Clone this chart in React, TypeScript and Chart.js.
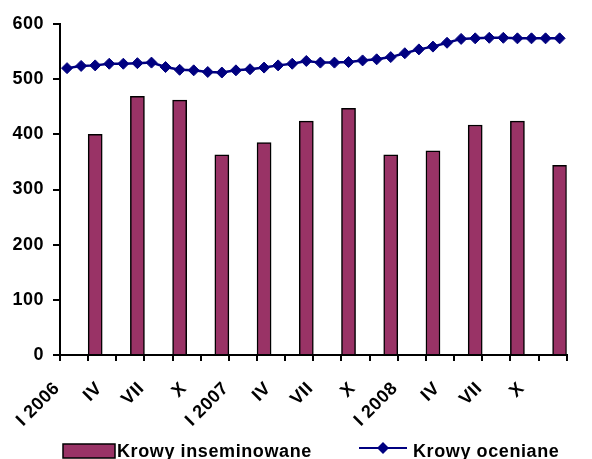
import React, { useEffect, useRef } from 'react';
import { Chart, registerables } from 'chart.js';

Chart.register(...registerables);

// Quarter labels shown on the month axis (every third month)
const quarterLabels = ['I 2006', 'IV', 'VII', 'X', 'I 2007', 'IV', 'VII', 'X', 'I 2008', 'IV', 'VII', 'X'];

// Quarterly values: Krowy inseminowane (plotted on the last month of each quarter)
const inseminated = [400, 469, 462, 363, 385, 424, 447, 363, 370, 417, 424, 344];

// Monthly values: Krowy oceniane (Jan 2006 - Dec 2008)
const assessed = [
  520, 524, 525, 528, 528, 529, 530, 522, 517, 516, 513, 512,
  516, 518, 521, 525, 528, 533, 530, 530, 531, 534, 536, 540,
  547, 554, 559, 566, 573, 574, 575, 575, 574, 574, 574, 574,
];

const seriesNames = ['Krowy inseminowane', 'Krowy oceniane'];
const yTicks = { min: 0, max: 600, step: 100 };

const BAR_COLOR = '#993366';
const LINE_COLOR = '#000080';
const FONT_FAMILY = '"Liberation Sans", Arial, sans-serif';

const months = assessed.map((_, i) => (i % 3 === 0 ? quarterLabels[i / 3] : ''));
const barData = assessed.map((_, i) => (i % 3 === 2 ? inseminated[(i - 2) / 3] : null));

const spacingPlugin = {
  id: 'letterSpacing',
  beforeDraw(chart: any) {
    (chart.ctx as any).letterSpacing = '0.5px';
  },
  afterDraw(chart: any) {
    (chart.ctx as any).letterSpacing = '0px';
  },
};

const legendPlugin = {
  id: 'customLegend',
  afterDraw(chart: any) {
    const ctx = chart.ctx as CanvasRenderingContext2D;
    const ds = chart.data.datasets;
    ctx.save();
    ctx.font = `bold 18px ${FONT_FAMILY}`;
    (ctx as any).letterSpacing = '0.6px';
    ctx.textBaseline = 'alphabetic';
    ctx.textAlign = 'left';
    // bar legend
    ctx.fillStyle = BAR_COLOR;
    ctx.fillRect(63, 444, 52, 14);
    ctx.strokeStyle = '#000';
    ctx.lineWidth = 1.5;
    ctx.strokeRect(63, 444, 52, 14);
    ctx.fillStyle = '#000';
    ctx.fillText(ds[0].label, 117, 457);
    // line legend
    ctx.strokeStyle = LINE_COLOR;
    ctx.lineWidth = 2;
    ctx.beginPath();
    ctx.moveTo(359, 448);
    ctx.lineTo(407, 448);
    ctx.stroke();
    ctx.fillStyle = LINE_COLOR;
    ctx.beginPath();
    ctx.moveTo(383 - 6, 448);
    ctx.lineTo(383, 448 - 6);
    ctx.lineTo(383 + 6, 448);
    ctx.lineTo(383, 448 + 6);
    ctx.closePath();
    ctx.fill();
    ctx.fillStyle = '#000';
    ctx.fillText(ds[1].label, 413, 457);
    ctx.restore();
  },
};

export default function App() {
  const canvasRef = useRef<HTMLCanvasElement | null>(null);

  useEffect(() => {
    if (!canvasRef.current) return;
    const tickFont = { family: FONT_FAMILY, size: 18, weight: 'bold' as const };
    const evenOnly = (c: any) =>
      c.index === undefined || c.index % 2 === 0 ? '#000' : 'rgba(0,0,0,0)';

    const chart = new Chart(canvasRef.current, {
      type: 'bar',
      data: {
        labels: months,
        datasets: [
          {
            type: 'bar',
            label: seriesNames[0],
            data: barData,
            backgroundColor: BAR_COLOR,
            borderColor: '#000',
            borderWidth: 1.5,
            barPercentage: 1,
            categoryPercentage: 1,
            order: 2,
          },
          {
            type: 'line',
            label: seriesNames[1],
            data: assessed,
            borderColor: LINE_COLOR,
            borderWidth: 2.5,
            backgroundColor: LINE_COLOR,
            pointStyle: 'rectRot',
            pointRadius: 5.5,
            pointBorderWidth: 1,
            pointBackgroundColor: LINE_COLOR,
            pointBorderColor: LINE_COLOR,
            tension: 0,
            order: 1,
          },
        ],
      },
      options: {
        responsive: false,
        animation: false,
        devicePixelRatio: 1,
        layout: { padding: { left: 0, right: 3, top: 24, bottom: 24 } },
        plugins: {
          legend: { display: false },
          tooltip: { enabled: false },
        },
        scales: {
          x: {
            type: 'category',
            offset: true,
            afterFit: (s: any) => {
              s.height = 80;
            },
            grid: {
              offset: true,
              drawOnChartArea: false,
              drawTicks: true,
              tickLength: 6,
              lineWidth: 2,
              color: evenOnly,
              tickColor: evenOnly,
            },
            border: { display: true, color: '#000', width: 2 },
            ticks: {
              autoSkip: false,
              minRotation: 45,
              maxRotation: 45,
              padding: 17,
              labelOffset: -10,
              color: '#000',
              font: tickFont,
            },
          },
          y: {
            min: yTicks.min,
            max: yTicks.max,
            afterFit: (s: any) => {
              s.width = 60;
            },
            grid: {
              drawOnChartArea: false,
              drawTicks: true,
              tickLength: 7,
              lineWidth: 2,
              color: '#000',
            },
            border: { display: true, color: '#000', width: 2 },
            ticks: {
              stepSize: yTicks.step,
              padding: 9,
              color: '#000',
              font: tickFont,
            },
          },
        },
      },
      plugins: [spacingPlugin, legendPlugin],
    });
    return () => chart.destroy();
  }, []);

  return (
    <div style={{ position: 'absolute', left: 0, top: 0, width: 592, height: 459, background: '#fff' }}>
      <canvas ref={canvasRef} width={592} height={459} />
    </div>
  );
}
